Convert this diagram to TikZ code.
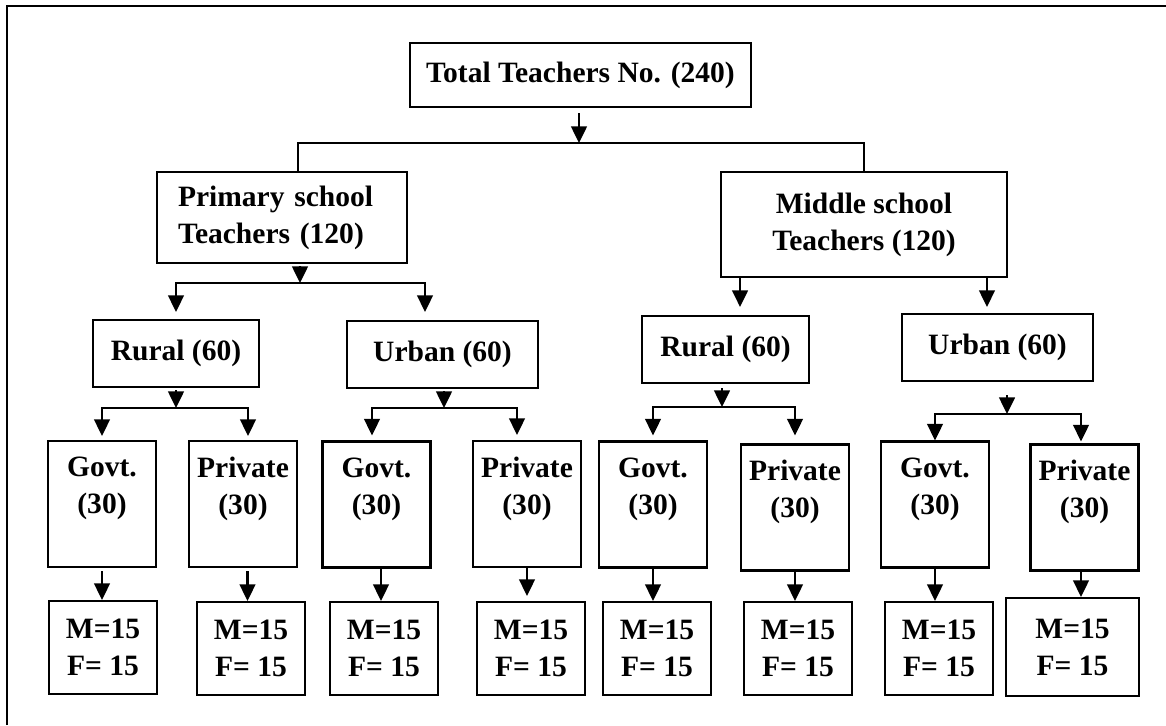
\documentclass[tikz,border=0pt]{standalone}
\usepackage{fontspec}
\setmainfont{Liberation Serif}
\usetikzlibrary{arrows.meta}

\begin{document}
\begin{tikzpicture}[
    x=0.02cm, y=-0.02cm,
    box/.style={draw,line width=1.2pt,inner sep=0pt,align=center,
        font=\fontsize{16.8}{21}\selectfont\bfseries},
    level/.style={box,minimum width=#1,minimum height=1.34cm},
    leaf/.style={box,minimum width=2.16cm,minimum height=2.52cm},
    mf/.style={box,minimum width=2.16cm,minimum height=1.86cm},
    line/.style={line width=1.2pt},
    arr/.style={line width=1.2pt,-{Triangle[length=9.5pt,width=9pt]}}
]
    \useasboundingbox (0,0) rectangle (1166,725);
    % outer frame (only top and left edges show)
    \draw[line] (7,725) -- (7,6) -- (1166,6);

    % top level
    \node[box,minimum width=6.82cm,minimum height=1.28cm] (total) at (580.5,75) {Total Teachers No. (240)};
    \node[box,text width=4.16cm,inner xsep=0.42cm,align=left,minimum height=1.82cm] (prim) at (282,217.5) {Primary school\\Teachers (120)};
    \node[box,minimum width=5.72cm,minimum height=2.1cm] (mid) at (864,224.5) {Middle school\\Teachers (120)};
    \coordinate (b0) at (579,143);
    \draw[arr,shorten <=0.1cm] (total.south -| b0) -- (b0);
    \draw[line] ([xshift=0.32cm]prim.north) |- (b0) -| (mid.north);

    % rural / urban
    \node[level=3.32cm] (ru1) at (176,353.5) {Rural (60)};
    \node[level=3.82cm] (ur1) at (442.5,354.5) {Urban (60)};
    \node[level=3.34cm] (ru2) at (725.5,349.5) {Rural (60)};
    \node[level=3.82cm] (ur2) at (997.5,347.5) {Urban (60)};
    \coordinate (b1) at (300,283);
    \draw[arr,shorten <=0.04cm] ([xshift=0.36cm]prim.south) -- (b1);
    \draw[arr,shorten >=0.14cm] (b1) -| (ru1.north);
    \draw[arr,shorten >=0.16cm] (b1) -| ([xshift=-0.35cm]ur1.north);
    \draw[arr,shorten >=0.16cm] ([xshift=-2.48cm]mid.south) -- ([xshift=-2.48cm]mid.south |- ru2.north);
    \draw[arr,shorten >=0.12cm] ([xshift=2.46cm]mid.south) -- ([xshift=2.46cm]mid.south |- ur2.north);

    % govt / private
    \node[leaf] (g1) at (102,504) {Govt.\\(30)\\\mbox{}};
    \node[leaf] (p1) at (243,504) {Private\\(30)\\\mbox{}};
    \node[leaf] (g2) at (376.5,504.5) {Govt.\\(30)\\\mbox{}};
    \node[leaf] (p2) at (527,504) {Private\\(30)\\\mbox{}};
    \node[leaf] (g3) at (653,504.5) {Govt.\\(30)\\\mbox{}};
    \node[leaf] (p3) at (795,507.5) {Private\\(30)\\\mbox{}};
    \node[leaf] (g4) at (935,504.5) {Govt.\\(30)\\\mbox{}};
    \node[leaf] (p4) at (1084.5,507.5) {Private\\(30)\\\mbox{}};

    \coordinate (b2) at (176,408);
    \draw[arr,shorten <=0.04cm] (ru1.south) -- (b2);
    \draw[arr,shorten >=0.08cm] (b2) -| (g1.north);
    \draw[arr,shorten >=0.08cm] (b2) -| ([xshift=0.1cm]p1.north);
    \coordinate (b3) at (444,408);
    \draw[arr,shorten <=0.04cm] (ur1.south -| b3) -- (b3);
    \draw[arr,shorten >=0.1cm] (b3) -| ([xshift=-0.09cm]g2.north);
    \draw[arr,shorten >=0.1cm] (b3) -| ([xshift=-0.2cm]p2.north);
    \coordinate (b4) at (722,407);
    \draw[arr,shorten <=0.08cm] (ru2.south -| b4) -- (b4);
    \draw[arr,shorten >=0.1cm] (b4) -| (g3.north);
    \draw[arr,shorten >=0.16cm] (b4) -| (p3.north);
    \coordinate (b5) at (1007,414);
    \draw[arr,shorten <=0.26cm] (ur2.south -| b5) -- (b5);
    \draw[arr] (b5) -| (g4.north);
    \draw[arr,shorten >=0.04cm] (b5) -| ([xshift=-0.07cm]p4.north);

    % male / female
    \node[mf] (m1) at (103,647.5) {M=15\\F= 15};
    \node[mf] (m2) at (251,648.5) {M=15\\F= 15};
    \node[mf] (m3) at (384,648.5) {M=15\\F= 15};
    \node[mf] (m4) at (531,648.5) {M=15\\F= 15};
    \node[mf] (m5) at (657,648.5) {M=15\\F= 15};
    \node[mf] (m6) at (798,648.5) {M=15\\F= 15};
    \node[mf] (m7) at (939,648.5) {M=15\\F= 15};
    \node[mf,minimum width=2.66cm,minimum height=1.96cm] (m8) at (1072.5,647) {M=15\\F= 15};
    \draw[arr,shorten <=0.06cm] (g1.south) -- (g1.south |- m1.north);
    \draw[arr,shorten <=0.06cm] ([xshift=0.09cm]p1.south) -- ([xshift=0.09cm]p1.south |- m2.north);
    \draw[arr] ([xshift=0.09cm]g2.south) -- ([xshift=0.09cm]g2.south |- m3.north);
    \draw[arr,shorten >=0.1cm] (p2.south) -- (p2.south |- m4.north);
    \draw[arr] (g3.south) -- (g3.south |- m5.north);
    \draw[arr] (p3.south) -- (p3.south |- m6.north);
    \draw[arr] (g4.south) -- (g4.south |- m7.north);
    \draw[arr] ([xshift=-0.07cm]p4.south) -- ([xshift=-0.07cm]p4.south |- m8.north);
\end{tikzpicture}
\end{document}
